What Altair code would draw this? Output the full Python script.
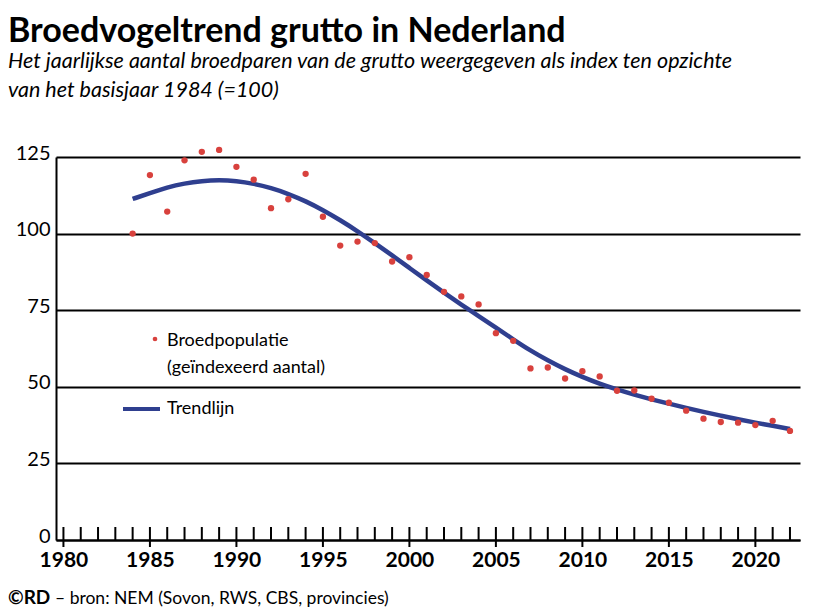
import altair as alt
import pandas as pd

# ---- data ----
years = list(range(1984, 2023))
broedpopulatie = [100.0, 119.1, 107.2, 123.9, 126.7, 127.3, 121.8, 117.6, 108.3, 111.2,
                  119.5, 105.5, 96.1, 97.4, 96.9, 90.9, 92.3, 86.5, 81.0, 79.5,
                  76.9, 67.5, 65.0, 56.0, 56.3, 52.7, 55.1, 53.4, 48.7, 48.8,
                  46.1, 44.8, 42.2, 39.6, 38.5, 38.3, 37.5, 38.9, 35.6]
trendlijn = [111.3, 113.2, 115.1, 116.4, 117.2, 117.5, 117.2, 116.3, 114.9, 113.0,
             110.6, 107.7, 104.4, 100.8, 96.9, 92.9, 88.8, 84.7, 80.7, 76.8,
             73.1, 69.3, 65.5, 61.8, 58.6, 55.7, 53.2, 51.0, 49.1, 47.4,
             45.9, 44.5, 43.1, 41.8, 40.6, 39.4, 38.3, 37.3, 36.2]
y_ticks = [0, 25, 50, 75, 100, 125]
x_labels = [1980, 1985, 1990, 1995, 2000, 2005, 2010, 2015, 2020]
minor_years = list(range(1980, 2023))

title = "Broedvogeltrend grutto in Nederland"
subtitle = ["Het jaarlijkse aantal broedparen van de grutto weergegeven als index ten opzichte",
            "van het basisjaar 1984 (=100)"]
legend_pop = ["Broedpopulatie", "(geïndexeerd aantal)"]
legend_trend = "Trendlijn"
footer_bold = "©RD"
footer_rest = "– bron: NEM (Sovon, RWS, CBS, provincies)"

W, H = 744, 383
FONT = "Lato"
RED = "#d8413d"
BLUE = "#2f3f8f"

df = pd.DataFrame({"jaar": years, "index": broedpopulatie, "trend": trendlijn})
df_minor = pd.DataFrame({"jaar": [y for y in minor_years if y % 5 != 0]})
df_major = pd.DataFrame({"jaar": [y for y in minor_years if y % 5 == 0]})

xscale = alt.Scale(domain=[1979.57, 2022.58], nice=False, zero=False)
yscale = alt.Scale(domain=[0, 125], nice=False)

xaxis = alt.Axis(values=x_labels, format="d", ticks=False, grid=False, domain=True,
                 domainColor="black", domainWidth=2, labelFont=FONT, labelFontSize=21,
                 labelFontWeight="bold", labelColor="black", labelPadding=9, title=None,
                 labelOverlap=False)
yaxis = alt.Axis(values=y_ticks, ticks=False, grid=True, gridColor="black", gridWidth=2,
                 gridOpacity=1, domain=True, domainColor="black", domainWidth=2,
                 labelFont=FONT, labelFontSize=20, labelColor="black", labelPadding=6,
                 labelBaseline="alphabetic", labelOffset=2, title=None)

base = alt.Chart(df)

trend = base.mark_line(color=BLUE, strokeWidth=4.5, interpolate="basis").encode(
    x=alt.X("jaar:Q", scale=xscale, axis=xaxis),
    y=alt.Y("trend:Q", scale=yscale, axis=yaxis),
)
points = base.mark_circle(color=RED, size=40, opacity=1).encode(
    x=alt.X("jaar:Q", scale=xscale),
    y=alt.Y("index:Q", scale=yscale),
)

minor = alt.Chart(df_minor).mark_rule(color="black", strokeWidth=2).encode(
    x=alt.X("jaar:Q", scale=xscale),
    y=alt.value(H - 13), y2=alt.value(H),
)
major = alt.Chart(df_major).mark_rule(color="black", strokeWidth=2).encode(
    x=alt.X("jaar:Q", scale=xscale),
    y=alt.value(H - 13), y2=alt.value(H + 7),
)


def txt(text, x, y, size, weight="normal", style="normal", color="black"):
    return alt.Chart(pd.DataFrame({"t": [text]})).mark_text(
        align="left", baseline="alphabetic", font=FONT, fontSize=size,
        fontWeight=weight, fontStyle=style, color=color,
    ).encode(x=alt.value(x), y=alt.value(y), text="t:N")


# legend
leg_point = alt.Chart(pd.DataFrame({"a": [1]})).mark_circle(color=RED, size=22, opacity=1).encode(
    x=alt.value(99), y=alt.value(182))
leg_line = alt.Chart(pd.DataFrame({"a": [1]})).mark_rule(color=BLUE, strokeWidth=4).encode(
    x=alt.value(67), x2=alt.value(104), y=alt.value(252))

texts = [
    txt(title, -48, -115, 34, weight="bold"),
    txt(subtitle[0], -48, -89, 21.5, style="italic"),
    txt(subtitle[1], -48, -60, 21.5, style="italic"),
    txt(legend_pop[0], 111, 189, 18),
    txt(legend_pop[1], 111, 216, 18),
    txt(legend_trend, 111, 257, 18),
    txt(footer_bold, -48, 447, 19, weight="bold"),
    txt(footer_rest, -1, 447, 17.5),
]

chart = alt.layer(trend, points, minor, major, leg_point, leg_line, *texts).properties(
    width=W, height=H,
    padding={"left": 48, "top": 149, "right": 5, "bottom": 70},
    autosize=alt.AutoSizeParams(type="none"),
    background="white",
).configure_view(stroke=None)

chart.save("out.html", embed_options={"renderer": "svg", "actions": False})
